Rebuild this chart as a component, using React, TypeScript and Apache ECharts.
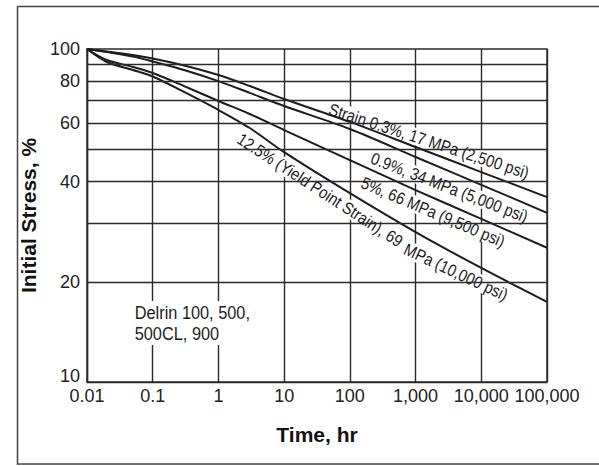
import React, { useEffect, useRef } from 'react';
import * as echarts from 'echarts';

// ---- data ----
const TIME_HR = [0.01, 0.02, 0.05, 0.1, 0.3, 1, 3, 10, 100, 1000, 10000, 100000];
const STRAIN_03 = [100, 98.3, 95.9, 93.6, 89.2, 83.5, 77.4, 70.8, 60.4, 50.8, 42.7, 35.9];
const STRAIN_09 = [100, 97.9, 94.9, 91.7, 86.5, 80.1, 73.8, 67.4, 57.5, 47.4, 39.1, 32.2];
const STRAIN_5 = [100, 92.7, 88.3, 84.7, 77.4, 69.8, 63.8, 57.1, 46.4, 37.7, 30.9, 25.3];
const STRAIN_125 = [100, 91.4, 86.5, 82.7, 74.3, 65.6, 57.9, 49.0, 36.9, 28.2, 22.0, 17.4];
const SERIES_NAMES = ['0.3%', '0.9%', '5%', '12.5%'];

const Y_GRID = [20, 30, 40, 50, 60, 70, 80, 90];
const Y_LABELED = [20, 40, 60, 80];

const LABEL_A = 'Strain 0.3%, 17 MPa (2,500 psi)';
const LABEL_B = '0.9%, 34 MPa (5,000 psi)';
const LABEL_C = '5%, 66 MPa (9,500 psi)';
const LABEL_D1 = '12.5% (Yield Point Strain), 69';
const LABEL_D2 = 'MPa (10,000 psi)';
const NOTE = 'Delrin 100, 500,\n500CL, 900';

const FONT = '"Liberation Sans", Arial, Helvetica, sans-serif';
const INK = '#1c1c1c';
const GRID_COLOR = '#2a2a2a';
const GRID_W = 1.4;

function fmtX(v: number): string {
  const r = Number(v.toPrecision(3));
  return r >= 1000 ? r.toLocaleString('en-US') : String(r);
}

function fmtY(v: number): string {
  const r = Math.round(v);
  return r === 10 ? '{low|10}' : String(r);
}

function rotText(text: string, x: number, y: number, deg: number) {
  return {
    type: 'text',
    x,
    y,
    z: 2,
    rotation: (-deg * Math.PI) / 180,
    scaleX: 0.87,
    silent: true,
    style: {
      text,
      fontSize: 17,
      fontFamily: FONT,
      fill: INK,
      align: 'center',
      verticalAlign: 'middle',
      textAlign: 'center',
      textVerticalAlign: 'middle',
      backgroundColor: '#fff',
      padding: [0, 1],
    },
  };
}

export default function App() {
  const ref = useRef<HTMLDivElement>(null);

  useEffect(() => {
    if (!ref.current) return;
    const chart = echarts.init(ref.current, null, { renderer: 'svg' });

    const curves = [STRAIN_03, STRAIN_09, STRAIN_5, STRAIN_125].map((vals, i) => ({
      type: 'line',
      name: SERIES_NAMES[i],
      data: TIME_HR.map((t, j) => [t, vals[j]]),
      showSymbol: false,
      smooth: 0.3,
      z: 3,
      silent: true,
      lineStyle: { color: INK, width: 2 },
    }));

    const option: any = {
      animation: false,
      backgroundColor: '#fff',
      grid: {
        left: 87,
        right: 52,
        top: 49,
        bottom: 84,
        show: true,
        borderColor: GRID_COLOR,
        borderWidth: GRID_W,
        containLabel: false,
      },
      xAxis: {
        type: 'log',
        logBase: 10,
        min: 0.01,
        max: 100000,
        splitNumber: 7,
        name: 'Time, hr',
        nameLocation: 'middle',
        nameGap: 42,
        nameTextStyle: { fontSize: 21, fontWeight: 'bold', color: '#111', fontFamily: FONT },
        axisLine: { show: true, lineStyle: { color: GRID_COLOR, width: GRID_W } },
        axisTick: { show: false },
        axisLabel: { fontSize: 18, color: '#222', margin: 5, fontFamily: FONT, formatter: fmtX },
        splitLine: { show: true, lineStyle: { color: GRID_COLOR, width: GRID_W } },
      },
      yAxis: {
        type: 'log',
        logBase: 10,
        min: 10,
        max: 100,
        name: 'Initial Stress, %',
        nameLocation: 'middle',
        nameGap: 36,
        nameTextStyle: { fontSize: 21, fontWeight: 'bold', color: '#111', fontFamily: FONT },
        axisLine: { show: true, lineStyle: { color: GRID_COLOR, width: GRID_W } },
        axisTick: { show: false },
        axisLabel: {
          fontSize: 18,
          color: '#222',
          margin: 7,
          fontFamily: FONT,
          formatter: fmtY,
          rich: {
            low: { fontSize: 18, color: '#222', fontFamily: FONT, padding: [0, 0, 12, 0] },
          },
        },
        splitLine: { show: false },
      },
      series: [
        {
          type: 'line',
          name: 'grid',
          data: [[TIME_HR[0], STRAIN_03[0]]],
          showSymbol: false,
          silent: true,
          z: 1,
          lineStyle: { opacity: 0 },
          markLine: {
            silent: true,
            symbol: 'none',
            animation: false,
            lineStyle: { color: GRID_COLOR, width: GRID_W, type: 'solid' },
            label: {
              show: true,
              position: 'start',
              distance: 7,
              fontSize: 18,
              color: '#222',
              fontFamily: FONT,
            },
            emphasis: { disabled: true },
            data: Y_GRID.map((v) => ({
              yAxis: v,
              label: { show: Y_LABELED.includes(v), formatter: String(v) },
            })),
          },
        },
        ...curves,
      ],
      graphic: {
        elements: [
          {
            type: 'rect',
            z: 0,
            silent: true,
            shape: { x: 17.5, y: 6.5, width: 640, height: 457.5 },
            style: { fill: 'none', stroke: '#444', lineWidth: 1.5 },
          },
          rotText(LABEL_A, 429, 141, 18),
          rotText(LABEL_B, 449.5, 187.5, 21),
          rotText(LABEL_C, 433, 212, 23),
          rotText(LABEL_D1, 320, 190, 33),
          rotText(LABEL_D2, 456, 272, 25),
          {
            type: 'text',
            x: 133,
            y: 301,
            z: 2,
            scaleX: 0.86,
            silent: true,
            style: {
              text: NOTE,
              fontSize: 19,
              lineHeight: 21,
              fontFamily: FONT,
              fill: INK,
              align: 'left',
              verticalAlign: 'top',
              textAlign: 'left',
              textVerticalAlign: 'top',
              backgroundColor: '#fff',
              padding: [1, 2],
            },
          },
        ],
      },
    };

    chart.setOption(option);
    return () => chart.dispose();
  }, []);

  return (
    <div
      ref={ref}
      style={{ position: 'fixed', left: 0, top: 0, width: 599, height: 466, background: '#fff' }}
    />
  );
}
